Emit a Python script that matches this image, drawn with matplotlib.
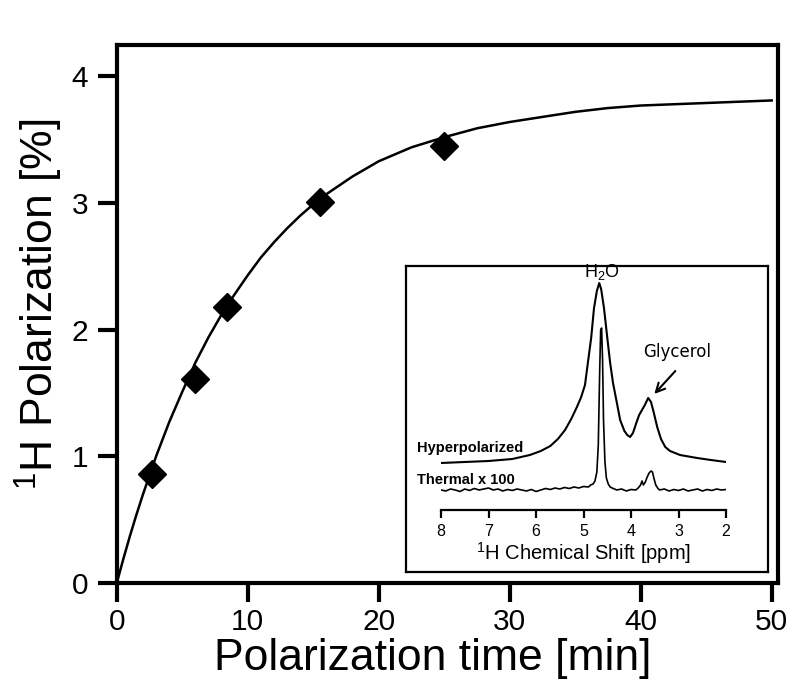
import numpy as np
import matplotlib
matplotlib.use('Agg')
import matplotlib.pyplot as plt

plt.rcParams['font.family'] = ['Liberation Sans', 'DejaVu Sans']
plt.rcParams['mathtext.fontset'] = 'custom'
plt.rcParams['mathtext.rm'] = 'Liberation Sans'
plt.rcParams['mathtext.it'] = 'Liberation Sans:italic'
plt.rcParams['mathtext.bf'] = 'Liberation Sans:bold'

# measured build-up points
t_meas = [2.7, 6.0, 8.4, 15.5, 25.0]
p_meas = [0.86, 1.61, 2.18, 3.01, 3.45]

# fitted build-up curve
t_fit = [0, 0.5, 1, 1.5, 2, 3, 4, 5, 6, 7, 8, 9, 10, 11, 12, 13, 14, 15, 16, 17, 18, 19, 20,
         22.5, 25, 27.5, 30, 32.5, 35, 37.5, 40, 42.5, 45, 47.5, 50]
p_fit = [0.0, 0.19, 0.37, 0.54, 0.70, 1.00, 1.27, 1.51, 1.74, 1.94, 2.12, 2.28, 2.43,
         2.57, 2.69, 2.80, 2.90, 2.99, 3.07, 3.14, 3.21, 3.27, 3.33,
         3.44, 3.52, 3.59, 3.64, 3.68, 3.72, 3.75, 3.77, 3.78, 3.79, 3.80, 3.81]

# inset spectra (chemical shift in ppm, signal in arbitrary units)
ppm_hyp = [8.0, 7.5, 7.0, 6.5, 6.13, 5.9, 5.7, 5.54, 5.39, 5.26, 5.14, 5.05, 4.97, 4.91,
           4.84, 4.78, 4.72, 4.67, 4.63, 4.57, 4.50, 4.44, 4.38, 4.29, 4.23, 4.14, 4.08,
           4.02, 3.96, 3.89, 3.83, 3.77, 3.71, 3.64, 3.58, 3.52, 3.45, 3.37, 3.28, 3.18,
           2.97, 2.61, 2.32, 2.0]
sig_hyp = [0, 1, 2, 4, 8, 12, 17, 24, 33, 44, 56, 66, 78, 100,
           125, 155, 172, 180, 174, 155, 125, 100, 80, 58, 43, 32, 28,
           26, 30, 40, 48, 53, 58, 65, 61, 50, 36, 24, 16, 12,
           8, 5, 3, 1]

ppm_th = [8.0, 7.9, 7.8, 7.7, 7.6, 7.5, 7.4, 7.3, 7.2, 7.1, 7.0, 6.9, 6.8, 6.7, 6.6, 6.5,
          6.4, 6.3, 6.2, 6.1, 6.0, 5.9, 5.8, 5.7, 5.6, 5.5, 5.4, 5.3, 5.2, 5.1, 5.0, 4.9,
          4.85, 4.8, 4.76, 4.72, 4.69, 4.66, 4.64, 4.62, 4.60, 4.58, 4.55, 4.52, 4.48,
          4.44, 4.4, 4.3, 4.2, 4.1, 4.0, 3.9, 3.85, 3.8, 3.77, 3.74, 3.70, 3.66, 3.62,
          3.58, 3.55, 3.52, 3.48, 3.44, 3.4, 3.3, 3.2, 3.1, 3.0, 2.9, 2.8, 2.7, 2.6, 2.5,
          2.4, 2.3, 2.2, 2.1, 2.0]
sig_th = [0, -1, 1, 0, -1.5, 1, -0.5, 1.5, 0, 1, 2, 0, 1, -1, 0.5, -0.5,
          1, 0, -1, 0.5, -1.5, 0, 1.5, 0.5, 2, 1, 2.5, 1.5, 3, 2, 3.5, 3,
          5, 6, 9, 18, 45, 120, 160, 162, 130, 70, 28, 12, 6,
          3, 2, 0, 1, -1, 0.5, 0, 2, 5, 9, 5, 8, 13, 17,
          19, 18, 12, 5, 2, 0, 1, -1, 0.5, -0.5, 1, -1, 0, 1, -1,
          0.5, -0.5, 1, 0, 0.5]

off_hyp = 47
off_th = 20
ppm_ticks = [8, 7, 6, 5, 4, 3, 2]

fig = plt.figure(figsize=(8.0, 6.99), dpi=100)

# main build-up plot
ax = fig.add_axes([0.146, 0.166, 0.826, 0.770])
ax.plot(t_fit, p_fit, color='black', lw=1.8, zorder=2)
ax.plot(t_meas, p_meas, 'D', color='black', ms=14, zorder=3)
ax.set_xlim(0, 50.45)
ax.set_ylim(0, 4.25)
ax.set_xticks([0, 10, 20, 30, 40, 50])
ax.set_yticks([0, 1, 2, 3, 4])
for s in ax.spines.values():
    s.set_linewidth(3)
ax.tick_params(direction='out', length=14, width=3, labelsize=21.5)
ax.tick_params(axis='x', pad=4)
ax.tick_params(axis='y', pad=6.5)
ax.set_xlabel('Polarization time [min]', fontsize=32)
ax.set_ylabel('$^1$H Polarization [%]', fontsize=32)
ax.xaxis.set_label_coords(0.478, -0.102)
ax.yaxis.set_label_coords(-0.079, 0.517)

# inset frame
box = fig.add_axes([0.5075, 0.1817, 0.4525, 0.4378])
box.set_xticks([])
box.set_yticks([])
box.set_facecolor('white')
for s in box.spines.values():
    s.set_linewidth(1.6)

# inset spectrum
sp = fig.add_axes([0.5513, 0.2704, 0.3563, 0.3433])
sp.patch.set_alpha(0)
sp.plot(ppm_hyp, np.array(sig_hyp) + off_hyp, color='black', lw=1.5)
sp.plot(ppm_th, np.array(sig_th) + off_th, color='black', lw=1.2)
sp.set_xlim(8, 2)
sp.set_ylim(0, 240)
sp.set_xticks(ppm_ticks)
sp.set_yticks([])
for k in ['left', 'right', 'top']:
    sp.spines[k].set_visible(False)
sp.spines['bottom'].set_linewidth(1.6)
sp.tick_params(axis='x', direction='out', length=6, width=1.6, labelsize=11.5, pad=4)
sp.set_xlabel('$^1$H Chemical Shift [ppm]', fontsize=14.5, labelpad=1)

sp.text(8.5, 62, 'Hyperpolarized', fontsize=10.5, fontweight='bold', ha='left', va='center')
sp.text(8.5, 30, 'Thermal x 100', fontsize=10.5, fontweight='bold', ha='left', va='center')
sp.text(4.61, 238, 'H$_2$O', fontsize=13, ha='center', va='center')
sp.text(3.03, 158, 'Glycerol', fontsize=12, ha='center', va='center',
        family=['DejaVu Sans'])
sp.annotate('', xy=(3.55, 114), xytext=(3.03, 141),
            arrowprops=dict(arrowstyle='->', color='black', lw=1.5, mutation_scale=16))

fig.savefig('out.png', dpi=100)
